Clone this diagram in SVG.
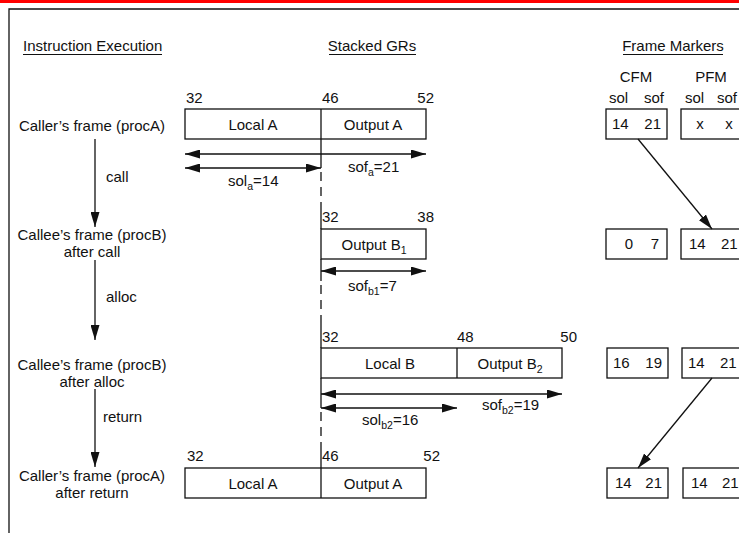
<svg xmlns="http://www.w3.org/2000/svg" width="739" height="533" viewBox="0 0 739 533">
  <style>
    text { font-family: "Liberation Sans", Arial, sans-serif; font-size: 15px; fill: #111; }
    .mid { text-anchor: middle; }
    .end { text-anchor: end; }
    .sub { font-size: 10.5px; }
    .box { fill: #fff; stroke: #111; stroke-width: 1.3; }
    .ln { fill: none; stroke: #111; stroke-width: 1.3; }
    .dash { fill: none; stroke: #111; stroke-width: 1.3; stroke-dasharray: 9 6; }
    .ul { stroke: #111; stroke-width: 1.1; }
  </style>
  <defs>
    <marker id="ah" viewBox="0 0 15 9" refX="15" refY="4.5" markerWidth="15" markerHeight="9" markerUnits="userSpaceOnUse" orient="auto-start-reverse">
      <path d="M0,0 L15,4.5 L0,9 Z" fill="#111"/>
    </marker>
  </defs>

  <rect width="739" height="533" fill="#fff"/>
  <!-- page frame -->
  <rect x="0" y="0" width="739" height="3" fill="#ff0000"/>
  <path class="ln" d="M9,533 L9,9 L739,9" stroke-width="1.6"/>

  <!-- column headings -->
  <g id="headings">
    <text x="23" y="51">Instruction Execution</text>
    <line class="ul" x1="23" y1="54.5" x2="162" y2="54.5"/>
    <text x="372" y="51" class="mid">Stacked GRs</text>
    <line class="ul" x1="329" y1="54.5" x2="416" y2="54.5"/>
    <text x="673" y="51" class="mid">Frame Markers</text>
    <line class="ul" x1="623" y1="54.5" x2="723" y2="54.5"/>
    <text x="636" y="82" class="mid">CFM</text>
    <text x="711" y="82" class="mid">PFM</text>
    <text x="609" y="103">sol</text>
    <text x="644" y="103">sof</text>
    <text x="685" y="103">sol</text>
    <text x="717" y="103">sof</text>
  </g>

  <!-- instruction steps -->
  <g id="step-caller">
    <text x="92" y="131" class="mid">Caller’s frame (procA)</text>
  </g>
  <g id="step-callee-call">
    <text x="92" y="240" class="mid">Callee’s frame (procB)</text>
    <text x="92" y="257" class="mid">after call</text>
  </g>
  <g id="step-callee-alloc">
    <text x="92" y="370" class="mid">Callee’s frame (procB)</text>
    <text x="92" y="387" class="mid">after alloc</text>
  </g>
  <g id="step-caller-return">
    <text x="92" y="481" class="mid">Caller’s frame (procA)</text>
    <text x="92" y="498" class="mid">after return</text>
  </g>

  <!-- stacked register frames -->
  <g id="frame-a">
    <text x="186" y="103">32</text>
    <text x="322" y="103">46</text>
    <text x="434" y="103" class="end">52</text>
    <rect class="box" x="185" y="109" width="241" height="30"/>
    <line class="ln" x1="321" y1="109" x2="321" y2="139"/>
    <text x="253" y="130" class="mid">Local A</text>
    <text x="373" y="130" class="mid">Output A</text>
  </g>
  <g id="frame-b1">
    <text x="322" y="222">32</text>
    <text x="434" y="222" class="end">38</text>
    <rect class="box" x="321" y="229" width="105" height="30"/>
    <text x="374" y="250" class="mid">Output B<tspan class="sub" dy="4">1</tspan></text>
  </g>
  <g id="frame-b2">
    <text x="322" y="342">32</text>
    <text x="457" y="342">48</text>
    <text x="577" y="342" class="end">50</text>
    <rect class="box" x="321" y="348" width="241" height="30"/>
    <line class="ln" x1="457" y1="348" x2="457" y2="378"/>
    <text x="390" y="369" class="mid">Local B</text>
    <text x="510" y="369" class="mid">Output B<tspan class="sub" dy="4">2</tspan></text>
  </g>
  <g id="frame-a-return">
    <text x="187" y="461">32</text>
    <text x="322" y="461">46</text>
    <text x="440" y="461" class="end">52</text>
    <rect class="box" x="185" y="468" width="241" height="30"/>
    <line class="ln" x1="321" y1="468" x2="321" y2="498"/>
    <text x="253" y="489" class="mid">Local A</text>
    <text x="373" y="489" class="mid">Output A</text>
  </g>

  <!-- frame marker registers -->
  <g id="cfm-1">
    <rect class="box" x="606" y="109" width="61" height="30"/>
    <text x="612" y="129">14</text><text x="661" y="129" class="end">21</text>
  </g>
  <g id="pfm-1">
    <rect class="box" x="681" y="109" width="70" height="30"/>
    <text x="700" y="129" class="mid">x</text><text x="729" y="129" class="mid">x</text>
  </g>
  <g id="cfm-2">
    <rect class="box" x="606" y="229" width="61" height="30"/>
    <text x="633" y="249" class="end">0</text><text x="659" y="249" class="end">7</text>
  </g>
  <g id="pfm-2">
    <rect class="box" x="681" y="229" width="70" height="30"/>
    <text x="689" y="249">14</text><text x="721" y="249">21</text>
  </g>
  <g id="cfm-3">
    <rect class="box" x="607" y="348" width="61" height="30"/>
    <text x="613" y="368">16</text><text x="662" y="368" class="end">19</text>
  </g>
  <g id="pfm-3">
    <rect class="box" x="682" y="348" width="70" height="30"/>
    <text x="688" y="368">14</text><text x="720" y="368">21</text>
  </g>
  <g id="cfm-4">
    <rect class="box" x="607" y="468" width="61" height="30"/>
    <text x="615" y="488">14</text><text x="662" y="488" class="end">21</text>
  </g>
  <g id="pfm-4">
    <rect class="box" x="683" y="468" width="70" height="30"/>
    <text x="691" y="488">14</text><text x="722" y="488">21</text>
  </g>

  <!-- connectors -->
  <g id="connectors">
    <!-- instruction flow -->
    <line class="ln" x1="95" y1="139" x2="95" y2="227" marker-end="url(#ah)"/>
    <text x="106" y="182">call</text>
    <line class="ln" x1="95" y1="260" x2="95" y2="340" marker-end="url(#ah)"/>
    <text x="106" y="302">alloc</text>
    <line class="ln" x1="95" y1="389" x2="95" y2="467" marker-end="url(#ah)"/>
    <text x="103" y="422">return</text>

    <!-- frame boundary guide -->
    <line class="ln" x1="321" y1="139" x2="321" y2="168"/>
    <line class="dash" x1="321" y1="172" x2="321" y2="205"/>
    <line class="ln" x1="321" y1="205" x2="321" y2="229"/>
    <line class="ln" x1="321" y1="259" x2="321" y2="281"/>
    <line class="dash" x1="321" y1="285" x2="321" y2="323"/>
    <line class="ln" x1="321" y1="323" x2="321" y2="348"/>
    <line class="ln" x1="321" y1="378" x2="321" y2="408"/>
    <line class="dash" x1="321" y1="412" x2="321" y2="443"/>
    <line class="ln" x1="321" y1="443" x2="321" y2="468"/>

    <!-- size of frame / size of locals -->
    <line class="ln" x1="185" y1="154" x2="426" y2="154" marker-start="url(#ah)" marker-end="url(#ah)"/>
    <text x="348" y="172">sof<tspan class="sub" dy="4">a</tspan><tspan dy="-4">=21</tspan></text>
    <line class="ln" x1="185" y1="168" x2="321" y2="168" marker-start="url(#ah)" marker-end="url(#ah)"/>
    <text x="228" y="186">sol<tspan class="sub" dy="4">a</tspan><tspan dy="-4">=14</tspan></text>

    <line class="ln" x1="321" y1="271" x2="426" y2="271" marker-start="url(#ah)" marker-end="url(#ah)"/>
    <text x="348" y="291">sof<tspan class="sub" dy="4">b1</tspan><tspan dy="-4">=7</tspan></text>

    <line class="ln" x1="321" y1="394" x2="562" y2="394" marker-start="url(#ah)" marker-end="url(#ah)"/>
    <text x="482" y="410">sof<tspan class="sub" dy="4">b2</tspan><tspan dy="-4">=19</tspan></text>
    <line class="ln" x1="321" y1="408" x2="457" y2="408" marker-start="url(#ah)" marker-end="url(#ah)"/>
    <text x="362" y="425">sol<tspan class="sub" dy="4">b2</tspan><tspan dy="-4">=16</tspan></text>

    <!-- frame marker transfers -->
    <line class="ln" x1="638" y1="139" x2="712" y2="229" marker-end="url(#ah)"/>
    <line class="ln" x1="712" y1="378" x2="638" y2="468" marker-end="url(#ah)"/>
  </g>
</svg>
